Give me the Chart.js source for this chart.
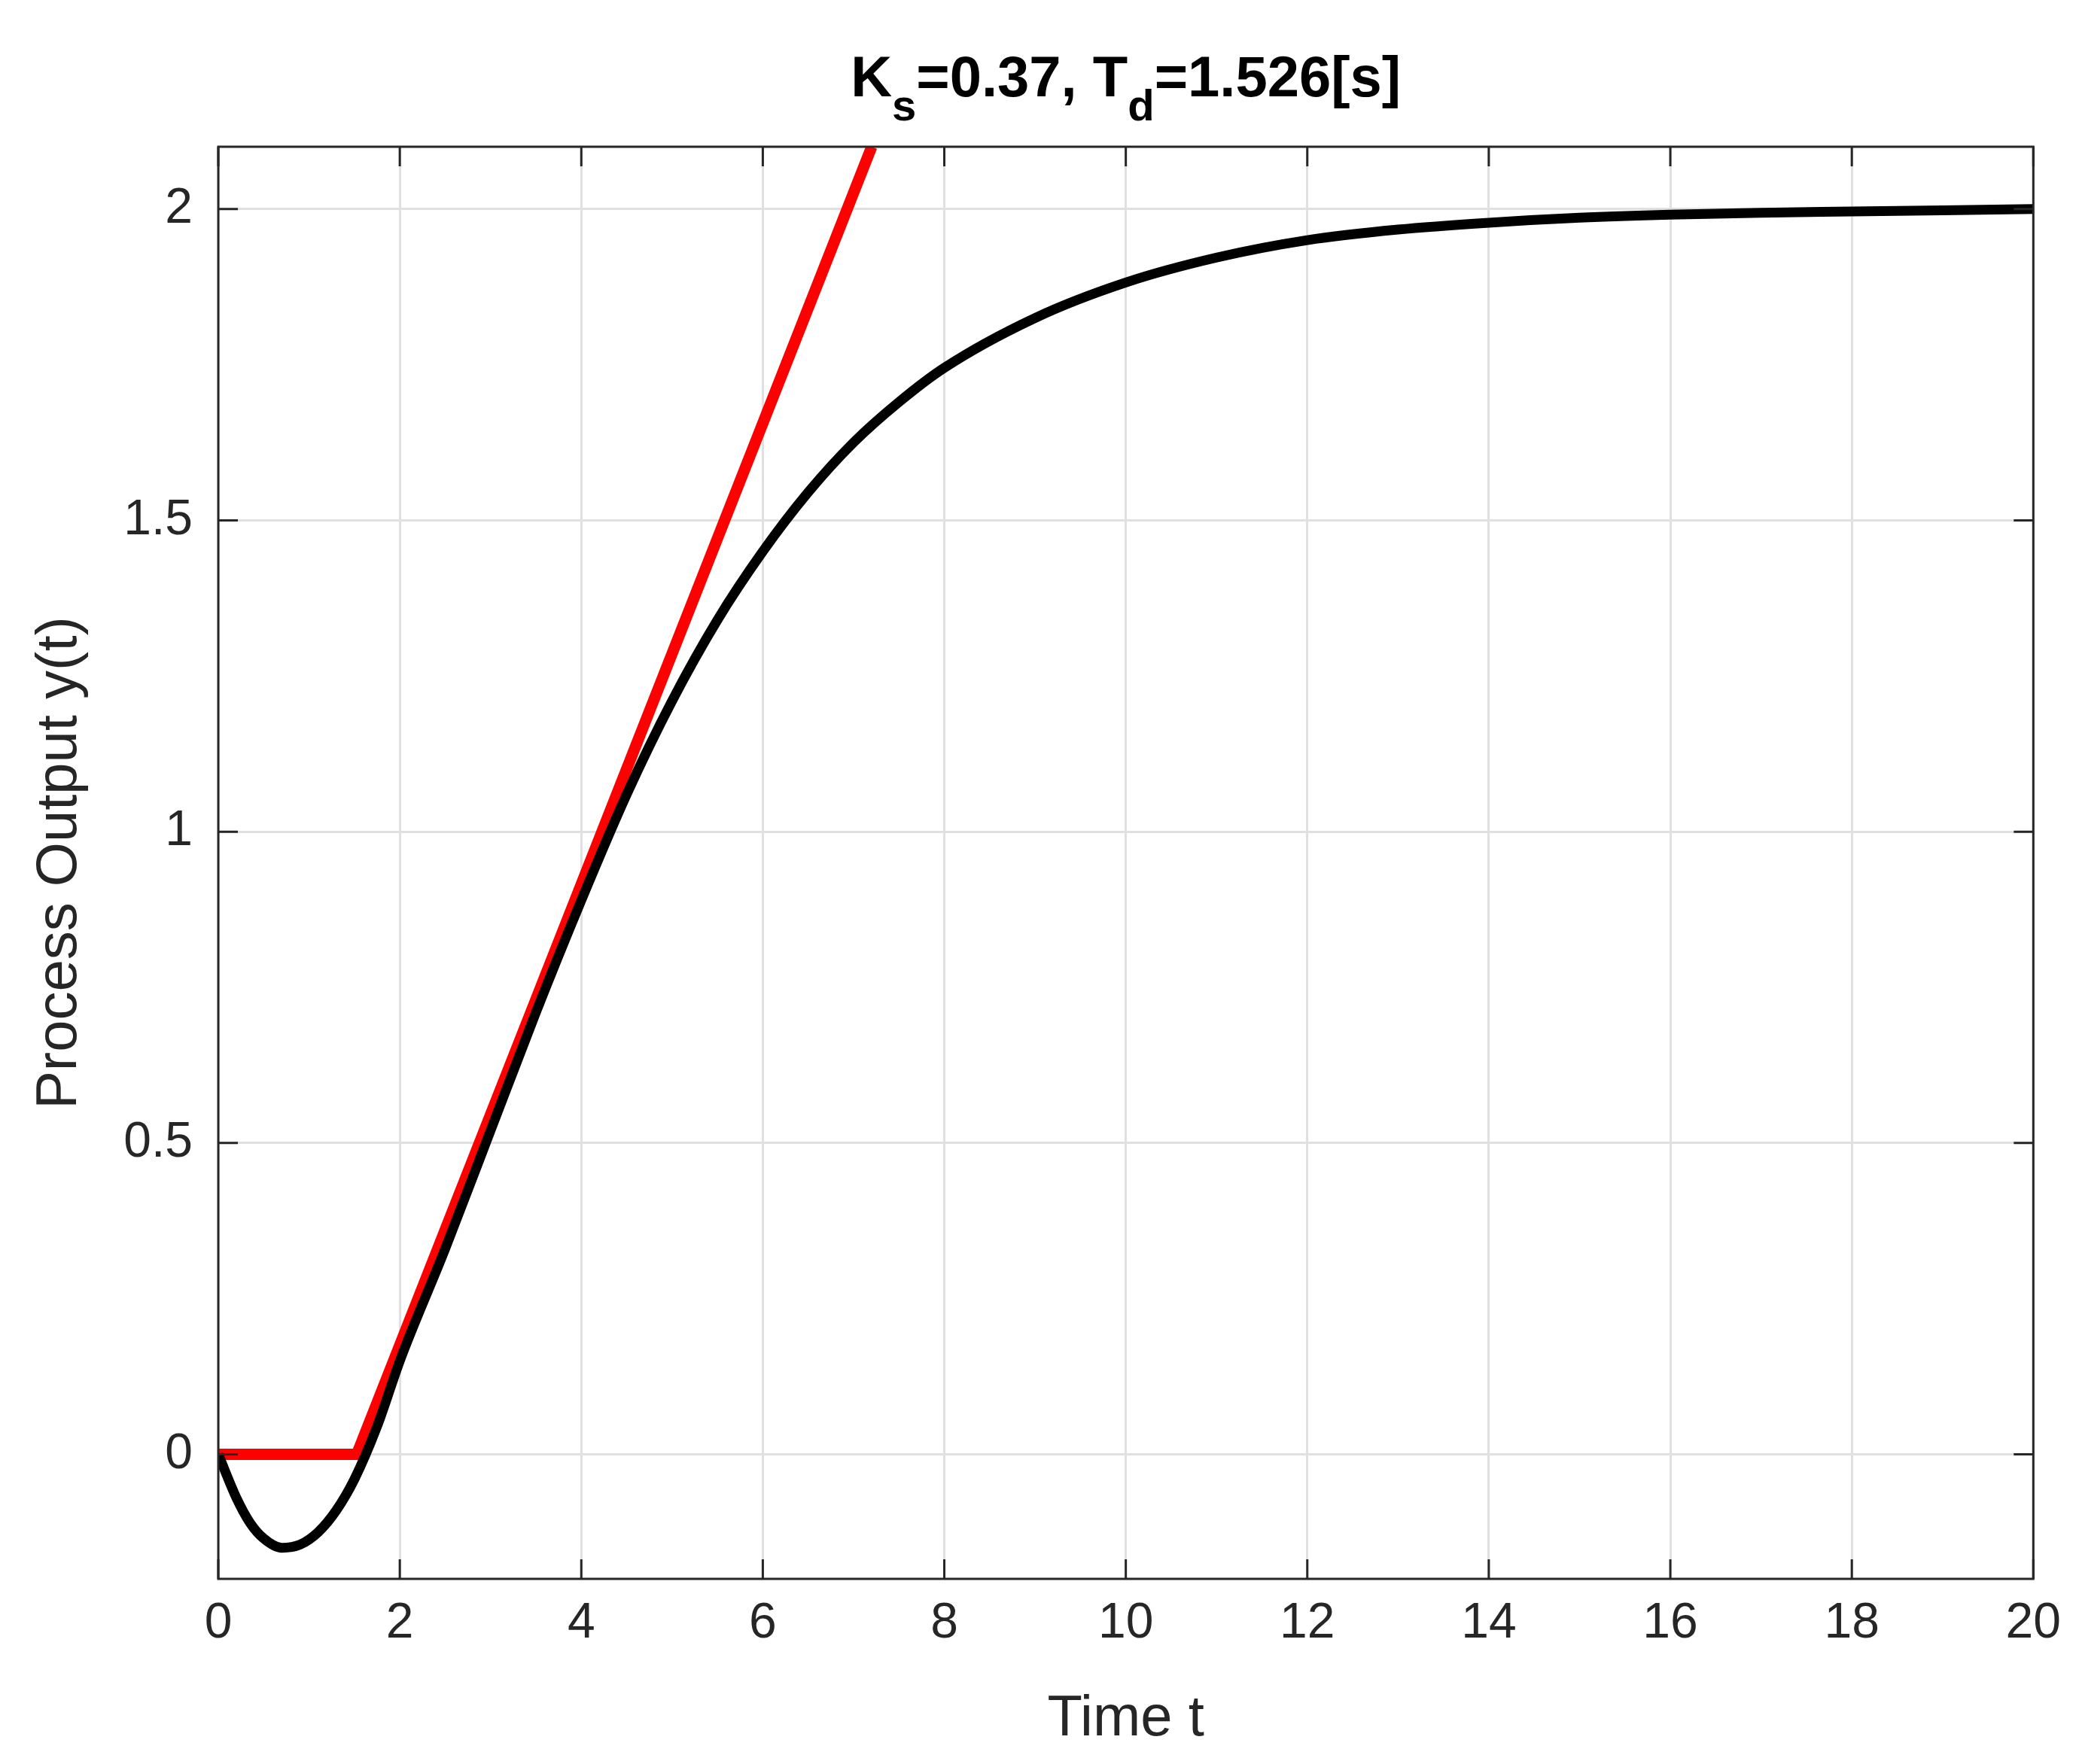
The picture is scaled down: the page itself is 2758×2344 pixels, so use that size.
<!DOCTYPE html>
<html>
<head>
<meta charset="utf-8">
<script src="https://cdn.jsdelivr.net/npm/chart.js@4/dist/chart.umd.min.js"></script>
<style>
  html, body { margin: 0; padding: 0; background: #fff; }
  canvas { display: block; }
</style>
</head>
<body>
<canvas id="chart" width="2758" height="2344"></canvas>
<script>
// step response
const responseTime = [0, 0.2, 0.35, 0.5, 0.7, 0.9, 1.1, 1.3, 1.5, 1.75, 2, 2.5, 3, 3.5, 4, 4.5, 5, 5.5, 6, 6.5, 7, 7.5, 8, 9, 10, 11, 12, 13, 14, 15, 16, 17, 18, 19, 20];
const responseValue = [0, -0.07, -0.11, -0.135, -0.15, -0.145, -0.125, -0.09, -0.04, 0.045, 0.15, 0.33, 0.52, 0.71, 0.89, 1.06, 1.21, 1.34, 1.45, 1.545, 1.625, 1.69, 1.745, 1.825, 1.882, 1.922, 1.95, 1.967, 1.978, 1.986, 1.991, 1.994, 1.996, 1.998, 2.0];

// tangent approximation: dead time then slope Ks
const tangentTime = [0, 1.526, 7.2];
const tangentValue = [0, 0, 2.1];

const xTicks = [0, 2, 4, 6, 8, 10, 12, 14, 16, 18, 20];
const yTicks = [0, 0.5, 1, 1.5, 2];

const FONT = "'Liberation Sans', Arial, Helvetica, sans-serif";
const AXIS_COLOR = "#262626";

const toPoints = (xs, ys) => xs.map((x, i) => ({ x, y: ys[i] }));

const framePlugin = {
  id: "frame",
  afterDraw(chart) {
    const { ctx, chartArea: a, scales } = chart;
    ctx.save();
    ctx.strokeStyle = AXIS_COLOR;
    ctx.lineWidth = 3;
    ctx.strokeRect(a.left, a.top, a.right - a.left, a.bottom - a.top);
    const len = 26;
    ctx.beginPath();
    xTicks.forEach((t) => {
      const px = scales.x.getPixelForValue(t);
      ctx.moveTo(px, a.bottom); ctx.lineTo(px, a.bottom - len);
      ctx.moveTo(px, a.top); ctx.lineTo(px, a.top + len);
    });
    yTicks.forEach((t) => {
      const py = scales.y.getPixelForValue(t);
      ctx.moveTo(a.left, py); ctx.lineTo(a.left + len, py);
      ctx.moveTo(a.right, py); ctx.lineTo(a.right - len, py);
    });
    ctx.stroke();

    // axis labels
    ctx.fillStyle = AXIS_COLOR;
    ctx.font = `76px ${FONT}`;
    ctx.textAlign = "center";
    ctx.textBaseline = "middle";
    ctx.fillText("Time t", (a.left + a.right) / 2, 2285);
    ctx.save();
    ctx.translate(80, (a.top + a.bottom) / 2);
    ctx.rotate(-Math.PI / 2);
    ctx.fillText("Process Output y(t)", 0, 0);
    ctx.restore();

    // title with subscripts
    const parts = [["K", 0], ["s", 1], ["=0.37, T", 0], ["d", 1], ["=1.526[s]", 0]];
    const big = `bold 76px ${FONT}`, small = `bold 58px ${FONT}`;
    let total = 0;
    parts.forEach(([s, sub]) => { ctx.font = sub ? small : big; total += ctx.measureText(s).width; });
    let x = (a.left + a.right) / 2 - total / 2;
    ctx.textAlign = "left";
    ctx.textBaseline = "alphabetic";
    ctx.fillStyle = "#000";
    parts.forEach(([s, sub]) => {
      ctx.font = sub ? small : big;
      ctx.fillText(s, x, sub ? 160 : 128);
      x += ctx.measureText(s).width;
    });
    ctx.restore();
  },
};

new Chart(document.getElementById("chart"), {
  type: "line",
  data: {
    datasets: [
      {
        data: toPoints(responseTime, responseValue),
        borderColor: "#000",
        borderWidth: 13,
        pointRadius: 0,
        cubicInterpolationMode: "monotone",
      },
      {
        data: toPoints(tangentTime, tangentValue),
        borderColor: "#ff0000",
        borderWidth: 15,
        pointRadius: 0,
        tension: 0,
      },
    ],
  },
  options: {
    responsive: false,
    devicePixelRatio: 1,
    animation: false,
    clip: true,
    layout: { padding: { top: 195, right: 54, left: 0, bottom: 0 } },
    plugins: { legend: { display: false }, tooltip: { enabled: false } },
    scales: {
      x: {
        type: "linear",
        min: 0,
        max: 20,
        afterBuildTicks: (s) => { s.ticks = xTicks.map((v) => ({ value: v })); },
        afterFit: (s) => { s.height = 246; },
        ticks: { color: AXIS_COLOR, font: { family: FONT, size: 66 }, padding: 20, maxRotation: 0,
          callback: (v) => String(v) },
        grid: { color: "#e0e0e0", lineWidth: 3, drawTicks: false },
        border: { display: false },
      },
      y: {
        type: "linear",
        min: -0.2,
        max: 2.1,
        afterBuildTicks: (s) => { s.ticks = yTicks.map((v) => ({ value: v })); },
        afterFit: (s) => { s.width = 290; },
        ticks: { color: AXIS_COLOR, font: { family: FONT, size: 66 }, padding: 34,
          callback: (v) => String(v) },
        grid: { color: "#e0e0e0", lineWidth: 3, drawTicks: false },
        border: { display: false },
      },
    },
  },
  plugins: [framePlugin],
});
</script>
</body>
</html>
